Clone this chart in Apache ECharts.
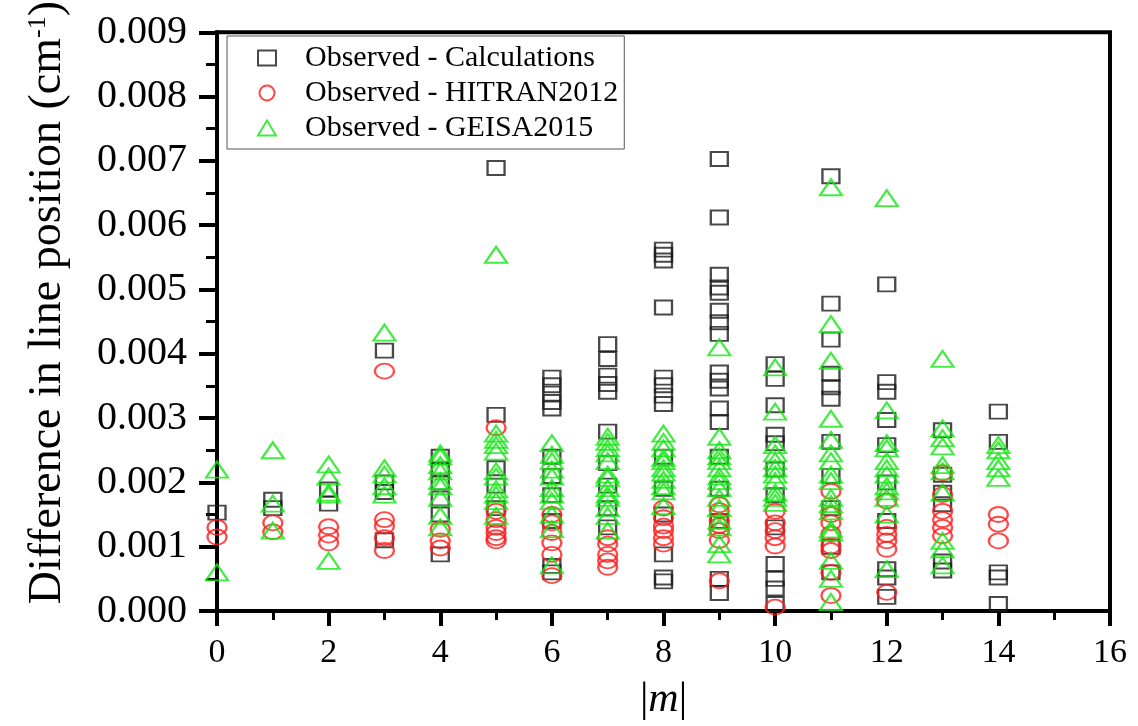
<!DOCTYPE html>
<html>
<head>
<meta charset="utf-8">
<script src="https://cdn.jsdelivr.net/npm/echarts@6/dist/echarts.min.js"></script>
<style>
  html, body { margin: 0; padding: 0; background: #fff; }
  #chart { width: 1138px; height: 726px; }
</style>
</head>
<body>
<div id="chart"></div>
<script>
// |m| values of the observed lines
const mValues = [0, 1, 2, 3, 4, 5, 6, 7, 8, 9, 10, 11, 12, 13, 14];

// Differences in line position (cm-1), one list per |m|
const obsMinusCalc = [
  [1.53e-3],
  [1.73e-3, 1.60e-3],
  [1.89e-3, 1.67e-3],
  [4.05e-3, 2.00e-3, 1.85e-3, 1.10e-3],
  [2.40e-3, 2.20e-3, 2.00e-3, 1.75e-3, 1.50e-3, 0.88e-3],
  [6.89e-3, 3.05e-3, 2.22e-3, 1.95e-3, 1.60e-3],
  [3.63e-3, 3.51e-3, 3.38e-3, 3.25e-3, 3.15e-3, 2.40e-3, 2.10e-3, 1.80e-3, 1.40e-3, 0.70e-3, 0.60e-3],
  [4.15e-3, 3.92e-3, 3.66e-3, 3.53e-3, 3.41e-3, 2.79e-3, 2.30e-3, 1.95e-3, 1.60e-3, 1.30e-3],
  [5.62e-3, 5.54e-3, 5.45e-3, 4.72e-3, 3.63e-3, 3.51e-3, 3.35e-3, 3.22e-3, 2.40e-3, 1.90e-3, 1.50e-3, 0.88e-3, 0.52e-3, 0.46e-3],
  [7.03e-3, 6.12e-3, 5.23e-3, 5.03e-3, 4.95e-3, 4.67e-3, 4.49e-3, 4.31e-3, 3.71e-3, 3.58e-3, 3.46e-3, 3.15e-3, 2.94e-3, 2.40e-3, 1.90e-3, 1.40e-3, 0.50e-3, 0.28e-3],
  [3.84e-3, 3.61e-3, 3.20e-3, 2.74e-3, 2.61e-3, 2.20e-3, 1.80e-3, 1.30e-3, 0.73e-3, 0.50e-3, 0.35e-3, 0.11e-3],
  [6.76e-3, 4.78e-3, 4.22e-3, 3.69e-3, 3.48e-3, 3.30e-3, 2.63e-3, 2.10e-3, 1.60e-3, 1.00e-3, 0.60e-3],
  [5.08e-3, 3.56e-3, 3.41e-3, 2.97e-3, 2.58e-3, 2.00e-3, 1.40e-3, 0.65e-3, 0.52e-3, 0.22e-3],
  [2.81e-3, 2.12e-3, 1.84e-3, 1.66e-3, 0.77e-3, 0.63e-3],
  [3.10e-3, 2.63e-3, 0.60e-3, 0.52e-3, 0.11e-3]
];

const obsMinusHitran = [
  [1.30e-3, 1.15e-3],
  [1.37e-3, 1.23e-3],
  [1.31e-3, 1.18e-3, 1.06e-3],
  [3.73e-3, 1.42e-3, 1.32e-3, 1.14e-3, 0.94e-3],
  [1.27e-3, 1.09e-3, 0.98e-3],
  [2.85e-3, 1.55e-3, 1.42e-3, 1.30e-3, 1.22e-3, 1.14e-3, 1.09e-3],
  [1.50e-3, 1.37e-3, 1.22e-3, 1.06e-3, 0.88e-3, 0.55e-3],
  [1.14e-3, 1.04e-3, 0.88e-3, 0.78e-3, 0.68e-3],
  [1.60e-3, 1.45e-3, 1.32e-3, 1.25e-3, 1.14e-3, 1.04e-3],
  [1.65e-3, 1.56e-3, 1.40e-3, 1.33e-3, 1.25e-3, 1.10e-3, 0.47e-3],
  [1.55e-3, 1.37e-3, 1.25e-3, 1.14e-3, 1.01e-3, 0.06e-3],
  [1.86e-3, 1.50e-3, 1.37e-3, 1.20e-3, 1.01e-3, 0.94e-3, 0.60e-3, 0.24e-3],
  [1.71e-3, 1.30e-3, 1.19e-3, 1.09e-3, 0.96e-3, 0.29e-3],
  [2.15e-3, 1.81e-3, 1.55e-3, 1.42e-3, 1.30e-3, 1.17e-3],
  [1.50e-3, 1.35e-3, 1.09e-3]
];

const obsMinusGeisa = [
  [2.20e-3, 0.60e-3],
  [2.50e-3, 1.67e-3, 1.25e-3],
  [2.28e-3, 2.09e-3, 1.84e-3, 1.81e-3, 0.78e-3],
  [4.33e-3, 2.22e-3, 2.12e-3, 1.94e-3, 1.81e-3],
  [2.45e-3, 2.40e-3, 2.27e-3, 2.17e-3, 2.02e-3, 1.94e-3, 1.76e-3, 1.48e-3, 1.30e-3],
  [5.54e-3, 2.76e-3, 2.66e-3, 2.58e-3, 2.48e-3, 2.17e-3, 2.09e-3, 1.89e-3, 1.81e-3, 1.71e-3, 1.48e-3],
  [2.61e-3, 2.43e-3, 2.33e-3, 2.20e-3, 2.09e-3, 1.91e-3, 1.81e-3, 1.71e-3, 1.50e-3, 1.27e-3, 0.71e-3],
  [2.71e-3, 2.63e-3, 2.53e-3, 2.45e-3, 2.33e-3, 2.12e-3, 2.07e-3, 1.91e-3, 1.81e-3, 1.76e-3, 1.60e-3, 1.48e-3, 1.25e-3],
  [2.76e-3, 2.63e-3, 2.53e-3, 2.38e-3, 2.33e-3, 2.22e-3, 2.15e-3, 2.04e-3, 1.94e-3, 1.86e-3, 1.63e-3],
  [4.10e-3, 2.71e-3, 2.50e-3, 2.40e-3, 2.33e-3, 2.22e-3, 2.09e-3, 2.02e-3, 1.91e-3, 1.76e-3, 1.60e-3, 1.40e-3, 1.30e-3, 1.04e-3, 0.88e-3],
  [3.79e-3, 3.10e-3, 2.58e-3, 2.45e-3, 2.33e-3, 2.22e-3, 2.12e-3, 2.02e-3, 1.84e-3, 1.76e-3, 1.68e-3],
  [6.59e-3, 4.46e-3, 3.89e-3, 2.99e-3, 2.66e-3, 2.45e-3, 2.33e-3, 2.12e-3, 2.02e-3, 1.76e-3, 1.66e-3, 1.55e-3, 1.27e-3, 1.22e-3, 0.78e-3, 0.50e-3, 0.14e-3],
  [6.42e-3, 3.12e-3, 2.61e-3, 2.53e-3, 2.33e-3, 2.22e-3, 2.12e-3, 1.94e-3, 1.86e-3, 1.76e-3, 1.50e-3, 0.65e-3],
  [3.92e-3, 2.84e-3, 2.69e-3, 2.56e-3, 2.27e-3, 2.17e-3, 1.84e-3, 1.09e-3, 0.96e-3, 0.71e-3],
  [2.58e-3, 2.50e-3, 2.33e-3, 2.22e-3, 2.07e-3]
];

const seriesNames = ['Observed - Calculations', 'Observed - HITRAN2012', 'Observed - GEISA2015'];

const SERIF = 'Liberation Serif, Times New Roman, serif';
const ELLIPSE = 'path://M0,10A10,10,0,1,1,20,10A10,10,0,1,1,0,10Z';

function toPoints(lists) {
  const pts = [];
  lists.forEach((vals, i) => vals.forEach(v => pts.push([mValues[i], v])));
  return pts;
}

function scatter(name, lists, symbol, size, stroke, width) {
  return {
    name: name,
    type: 'scatter',
    data: toPoints(lists),
    symbol: symbol,
    symbolSize: size,
    itemStyle: { color: 'rgba(255,255,255,0)', borderColor: stroke, borderWidth: width },
    emphasis: { disabled: true },
    animation: false
  };
}

const chart = echarts.init(document.getElementById('chart'), null, { renderer: 'canvas' });

chart.setOption({
  backgroundColor: '#fff',
  animation: false,
  grid: {
    left: 217, right: 28, top: 31, bottom: 111,
    show: true, borderColor: '#000', borderWidth: 4, backgroundColor: 'transparent'
  },
  legend: {
    left: 227, top: 36,
    orient: 'vertical',
    padding: [7, 6, 6, 30],
    itemGap: 5,
    itemWidth: 18,
    itemHeight: 15,
    borderColor: '#555',
    borderWidth: 1,
    data: seriesNames,
    textStyle: { fontFamily: SERIF, fontSize: 30, color: '#000', padding: [0, 0, 0, 24] }
  },
  xAxis: {
    type: 'value',
    min: 0, max: 16, interval: 2,
    name: '|{i|m}|',
    nameLocation: 'middle',
    nameGap: 68,
    nameTextStyle: {
      fontFamily: SERIF, fontSize: 42, color: '#000',
      rich: { i: { fontFamily: SERIF, fontSize: 42, fontStyle: 'italic', color: '#000' } }
    },
    axisLine: { lineStyle: { color: '#000', width: 4 } },
    axisTick: { length: 15, lineStyle: { color: '#000', width: 4 } },
    minorTick: { show: true, splitNumber: 2, length: 9, lineStyle: { color: '#000', width: 3 } },
    splitLine: { show: false },
    axisLabel: { fontFamily: SERIF, fontSize: 34, color: '#000', margin: 25 }
  },
  yAxis: {
    type: 'value',
    min: 0, max: 0.009, interval: 0.001,
    name: 'Difference in line position (cm{sup|-1})',
    nameLocation: 'middle',
    nameGap: 146,
    nameTextStyle: {
      fontFamily: SERIF, fontSize: 46, color: '#000',
      padding: [0, 0, 0, 38],
      rich: { sup: { fontFamily: SERIF, fontSize: 26, color: '#000', verticalAlign: 'top', padding: [0, 0, 18, 0] } }
    },
    axisLine: { lineStyle: { color: '#000', width: 4 } },
    axisTick: { length: 18, lineStyle: { color: '#000', width: 4 } },
    minorTick: { show: true, splitNumber: 2, length: 11, lineStyle: { color: '#000', width: 3 } },
    splitLine: { show: false },
    axisLabel: {
      fontFamily: SERIF, fontSize: 40, color: '#000', margin: 30,
      formatter: v => v.toFixed(3)
    }
  },
  series: [
    scatter(seriesNames[0], obsMinusCalc, 'rect', [17, 14], '#1a1a1a', 2.1),
    scatter(seriesNames[1], obsMinusHitran, ELLIPSE, [19, 15], '#ff1a1a', 2.1),
    scatter(seriesNames[2], obsMinusGeisa, 'triangle', [22, 16], '#14e614', 2.1)
  ]
});
</script>
</body>
</html>
